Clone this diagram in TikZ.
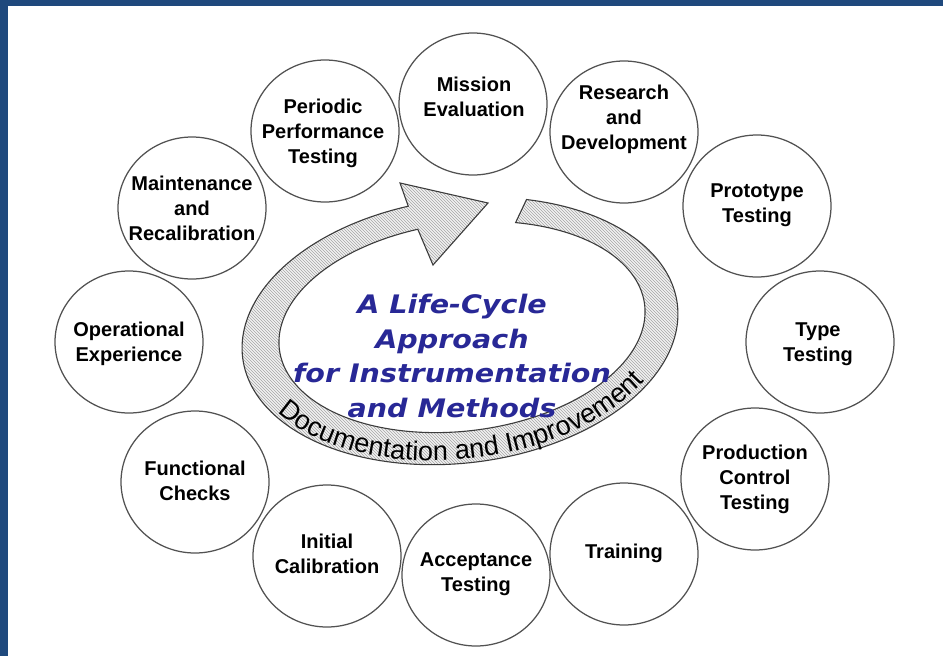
\documentclass[tikz,border=0pt]{standalone}
\usepackage{fontspec}
\setmainfont{Liberation Sans}
\newfontfamily\titlefont[FakeStretch=1.12]{DejaVu Sans}
\usetikzlibrary{patterns,decorations.text,shapes.geometric}
\definecolor{frameblue}{RGB}{31,73,125}
\definecolor{titleblue}{RGB}{40,40,150}
\definecolor{ringgray}{RGB}{60,60,60}
\begin{document}
\begin{tikzpicture}[x=1pt,y=-1pt,
  stage/.style={draw=black!68, line width=1.25pt, ellipse, minimum width=148pt, minimum height=142pt, inner sep=0pt},
  stagetext/.style={align=center, font=\fontsize{20}{25}\selectfont\bfseries, inner sep=0pt},
  ringline/.style={draw=ringgray, line width=1.1pt, line join=miter}
]
% background and frame
\fill[white] (0,0) rectangle (943,656);
\useasboundingbox (0,0) rectangle (943,656);
\fill[frameblue] (0,0) rectangle (943,6);
\fill[frameblue] (0,0) rectangle (8,656);

% ring arrow (ellipses tilted by 7 degrees)
\draw[ringline, preaction={fill=black!5}, pattern=north west lines, pattern color=black!35]
  plot[domain=68:-260.5, samples=180] ({460+219*cos(\x)*0.9925-132*sin(\x)*0.1219},{331-(219*cos(\x)*0.1219+132*sin(\x)*0.9925)})
  -- (400,183) -- (488,203) -- (433,265)
  -- plot[domain=-260:69, samples=180] ({462+184*cos(\x)*0.9925-104*sin(\x)*0.1219},{327-(184*cos(\x)*0.1219+104*sin(\x)*0.9925)})
  -- cycle;

% text along ring
\path[decorate, decoration={text along path, text align=center,
  text={|\fontsize{27}{27}\selectfont|Documentation and Improvement}}]
  plot[domain=-166:-22, samples=100] ({460+215*cos(\x)*0.9925-128*sin(\x)*0.1219},{331-(215*cos(\x)*0.1219+128*sin(\x)*0.9925)});

% title
\node[titleblue, align=center, font=\titlefont\fontsize{25.5}{34.5}\selectfont\bfseries\itshape, inner sep=0pt] (title) at (452,356)
  {A Life-Cycle\\Approach\\for Instrumentation\\and Methods};

% stages
\node[stage] (c1) at (473,104) {};
\node[stagetext] (t1) at (474,97) {Mission\\Evaluation};
\node[stage] (c2) at (624,132) {};
\node[stagetext] (t2) at (624,119) {Research\\and\\Development};
\node[stage] (c3) at (757,206) {};
\node[stagetext] (t3) at (757,205) {Prototype\\Testing};
\node[stage] (c4) at (820,342) {};
\node[stagetext] (t4) at (818,344) {Type\\Testing};
\node[stage] (c5) at (755,479) {};
\node[stagetext] (t5) at (755,479) {Production\\Control\\Testing};
\node[stage] (c6) at (624,554) {};
\node[stagetext] (t6) at (624,553) {Training};
\node[stage] (c7) at (476,575) {};
\node[stagetext] (t7) at (476,574) {Acceptance\\Testing};
\node[stage] (c8) at (327,556) {};
\node[stagetext] (t8) at (327,554) {Initial\\Calibration};
\node[stage] (c9) at (195,482) {};
\node[stagetext] (t9) at (195,481) {Functional\\Checks};
\node[stage] (c10) at (129,342) {};
\node[stagetext] (t10) at (129,344) {Operational\\Experience};
\node[stage] (c11) at (192,208) {};
\node[stagetext] (t11) at (192,208) {Maintenance\\and\\Recalibration};
\node[stage] (c12) at (325,131) {};
\node[stagetext] (t12) at (323,133) {Periodic\\Performance\\Testing};
\end{tikzpicture}
\end{document}
